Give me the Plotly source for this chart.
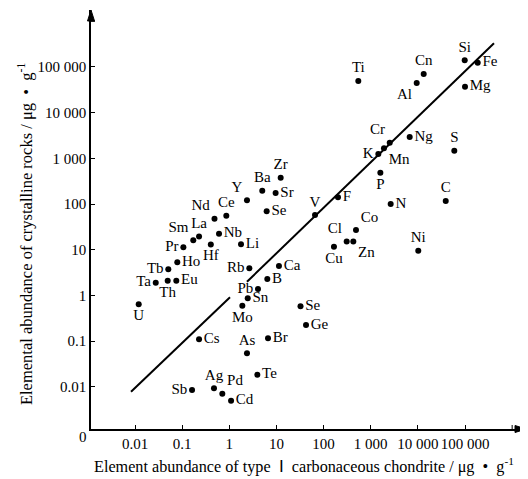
import plotly.graph_objects as go

# Element labels, chondrite abundance (x), crystalline rock abundance (y), label position
elements = ["Ti", "Cn", "Al", "Si", "Fe", "Mg", "Cr", "Mn", "K", "Ng", "S", "P", "C", "N",
            "F", "V", "Zr", "Sr", "Se", "Ba", "Y", "Nd", "Ce", "Nb", "La", "Sm", "Hf", "Li",
            "Pr", "Rb", "Ca", "B", "Pb", "Sn", "Mo", "Se", "Cl", "Co", "Zn", "Cu", "Ni",
            "Ho", "Tb", "Ta", "Th", "Eu", "U", "Cs", "As", "Br", "Ge", "Te", "Pd", "Ag",
            "Cd", "Sb"]
chondrite = [545, 13300, 9450, 98600, 186000, 100000, 2530, 1910, 1450, 6710, 59300, 1600,
             39000, 2650, 202, 65.8, 12.3, 9.6, 6.2, 5.0, 2.37, 0.485, 0.864, 0.605, 0.228,
             0.172, 0.405, 1.77, 0.106, 2.66, 11.3, 6.4, 4.06, 2.46, 1.89, 32.4, 309, 487,
             427, 166, 10200, 0.0788, 0.0508, 0.0275, 0.0493, 0.0751, 0.01197, 0.228, 2.37,
             6.62, 42.4, 3.93, 0.711, 0.473, 1.09, 0.162]
rocks = [49400, 70300, 44700, 140000, 124000, 37100, 2210, 1660, 1250, 2940, 1470, 487,
         117, 100, 141, 57.7, 378, 175, 70, 196, 121, 47.7, 55.7, 22.5, 19.5, 16.1, 13.1,
         13.2, 11.3, 3.94, 4.42, 2.30, 1.39, 0.87, 0.60, 0.58, 15.2, 27.1, 15.2, 11.7, 9.55,
         5.33, 3.74, 1.91, 2.11, 2.11, 0.642, 0.110, 0.0543, 0.116, 0.226, 0.0185, 0.0071,
         0.0093, 0.00499, 0.00855]
label_pos = ["top center", "top center", "bottom left", "top center", "middle right",
             "middle right", "top left", "bottom right", "middle left", "middle right",
             "top center", "bottom center", "top center", "middle right", "middle right",
             "top center", "top center", "middle right", "middle right", "top center",
             "top left", "top left", "top center", "middle right", "top center", "top left",
             "bottom center", "middle right", "middle left", "middle left", "middle right",
             "middle right", "middle left", "middle right", "bottom center", "middle right",
             "top left", "top right", "bottom right", "bottom center", "top center",
             "middle right", "middle left", "middle left", "bottom center", "middle right",
             "bottom center", "middle right", "top center", "middle right", "middle right",
             "middle right", "top right", "top center", "middle right", "middle left"]

# Trend line (drawn in two pieces, broken around the Pb label)
line1_x = [0.00822, 1.035]
line1_y = [0.00785, 0.914]
line2_x = [2.37, 412000]
line2_y = [2.0, 330000]

tick_vals = [0.01, 0.1, 1, 10, 100, 1000, 10000, 100000]
tick_text = ["0.01", "0.1", "1", "10", "100", "1 000", "10 000", "100 000"]

FONT = "Liberation Serif"
XR = [-2.934, 6.294]
YR = [-2.921, 6.247]

fig = go.Figure()
fig.add_trace(go.Scatter(x=line1_x, y=line1_y, mode="lines",
                         line=dict(color="black", width=2), hoverinfo="skip"))
fig.add_trace(go.Scatter(x=line2_x, y=line2_y, mode="lines",
                         line=dict(color="black", width=2), hoverinfo="skip"))
fig.add_trace(go.Scatter(x=chondrite, y=rocks, mode="markers+text", text=elements,
                         textposition=label_pos,
                         textfont=dict(family=FONT, size=15, color="black"),
                         marker=dict(color="black", size=6)))

axis_common = dict(type="log", showgrid=False, zeroline=False, showline=True,
                   linecolor="black", linewidth=1.5, ticks="inside", ticklen=4,
                   tickwidth=1, tickcolor="black", tickvals=tick_vals, ticktext=tick_text,
                   tickfont=dict(family=FONT, size=15, color="black"), automargin=False)

# page body has an 8px margin, so the figure is shrunk and margins shifted by 8px
fig.update_layout(
    width=520, height=471,
    margin=dict(l=83, r=2, t=2, b=50),
    paper_bgcolor="white", plot_bgcolor="white",
    showlegend=False,
    xaxis=dict(range=XR, **axis_common),
    yaxis=dict(range=YR, **axis_common),
)

# arrow heads and unlabeled 10^6 ticks
px_w, px_h = 435.0, 419.0
ax_tick_x = (6 - XR[0]) / (XR[1] - XR[0])
ax_tick_y = (6 - YR[0]) / (YR[1] - YR[0])
shapes = [
    dict(type="path", xref="paper", yref="paper",
         path=f"M 1 0 L {1-11/px_w} {3.5/px_h} L {1-11/px_w} {-3.5/px_h} Z",
         fillcolor="black", line=dict(color="black", width=1)),
    dict(type="path", xref="paper", yref="paper",
         path=f"M 0 1 L {3.5/px_w} {1-11/px_h} L {-3.5/px_w} {1-11/px_h} Z",
         fillcolor="black", line=dict(color="black", width=1)),
    dict(type="line", xref="paper", yref="paper", x0=ax_tick_x, x1=ax_tick_x,
         y0=0, y1=4/px_h, line=dict(color="black", width=1)),
    dict(type="line", xref="paper", yref="paper", x0=0, x1=4/px_w,
         y0=ax_tick_y, y1=ax_tick_y, line=dict(color="black", width=1)),
]
fig.update_layout(shapes=shapes)

fig.add_annotation(xref="paper", yref="paper", x=-0.018, y=-0.019, text="0",
                   showarrow=False, xanchor="center", yanchor="middle",
                   font=dict(family=FONT, size=15, color="black"))
fig.add_annotation(xref="paper", yref="paper", x=0.49, y=-0.088,
                   text="Element abundance of type\u2002Ⅰ\u2002carbonaceous chondrite / μg\u2002•\u2002g<sup>-1</sup>",
                   showarrow=False, xanchor="center", yanchor="middle",
                   font=dict(family=FONT, size=16.2, color="black"))
fig.add_annotation(xref="paper", yref="paper", x=-0.152, y=0.465, textangle=-90,
                   text="Elemental abundance of crystalline rocks / μg\u2002•\u2002g<sup>-1</sup>",
                   showarrow=False, xanchor="center", yanchor="middle",
                   font=dict(family=FONT, size=16.5, color="black"))

fig.write_html("out.html")
